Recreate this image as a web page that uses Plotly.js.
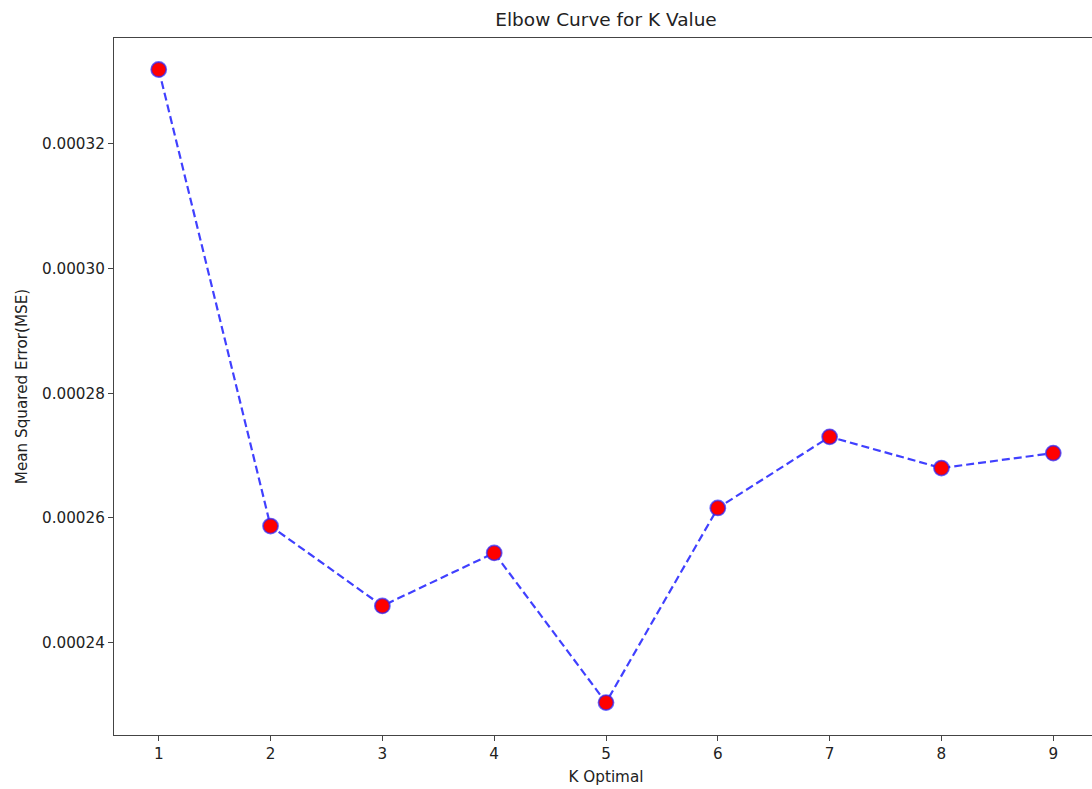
<!DOCTYPE html>
<html>
<head>
<meta charset="utf-8">
<script src="https://cdn.plot.ly/plotly-3.0.1.min.js"></script>
<style>
html, body { margin: 0; padding: 0; overflow: hidden; background: #fff; }
#chart { width: 1110px; height: 789px; }
</style>
</head>
<body>
<div id="chart"></div>
<script>
const kValues = [1, 2, 3, 4, 5, 6, 7, 8, 9];
const mseValues = [0.0003319, 0.0002587, 0.0002459, 0.0002544, 0.0002304, 0.0002616, 0.0002730, 0.0002680, 0.0002704];
const yTickValues = [0.00024, 0.00026, 0.00028, 0.00030, 0.00032];
const yTickLabels = ["0.00024", "0.00026", "0.00028", "0.00030", "0.00032"];
const titleText = "Elbow Curve for K Value";
const xTitleText = "K Optimal";
const yTitleText = "Mean Squared Error(MSE)";

const font = "DejaVu Sans, sans-serif";
const trace = {
  x: kValues,
  y: mseValues,
  type: "scatter",
  mode: "lines+markers",
  line: { color: "rgba(0,0,255,0.75)", width: 2.2, dash: "8px,4px" },
  marker: { size: 15, color: "#ff0000", line: { color: "rgba(40,40,255,0.7)", width: 1.8 } },
  hoverinfo: "x+y"
};

const axisCommon = {
  showgrid: false,
  zeroline: false,
  showline: true,
  mirror: true,
  linecolor: "#444",
  linewidth: 1.3,
  ticks: "outside",
  ticklen: 5,
  tickwidth: 1.2,
  tickcolor: "#444",
  tickfont: { family: font, size: 15.2, color: "#222" }
};

const layout = {
  width: 1110,
  height: 789,
  margin: { l: 114, r: 12, t: 38, b: 54 },
  paper_bgcolor: "#fff",
  plot_bgcolor: "#fff",
  showlegend: false,
  title: {
    text: titleText,
    font: { family: font, size: 18.5, color: "#222" },
    x: 606 / 1110, xanchor: "center", xref: "container",
    y: 1 - 20 / 789, yanchor: "middle", yref: "container"
  },
  xaxis: Object.assign({}, axisCommon, {
    range: [0.6, 9.4],
    tickmode: "array",
    tickvals: kValues,
    ticktext: kValues.map(String),
    title: { text: xTitleText, font: { family: font, size: 15.2, color: "#222" }, standoff: 8 },
    automargin: false
  }),
  yaxis: Object.assign({}, axisCommon, {
    range: [0.0002252, 0.00033695],
    tickmode: "array",
    tickvals: yTickValues,
    ticktext: yTickLabels,
    title: { text: yTitleText, font: { family: font, size: 15.2, color: "#222" }, standoff: 10 },
    automargin: false
  })
};

Plotly.newPlot("chart", [trace], layout, { displayModeBar: false, staticPlot: false });
</script>
</body>
</html>
